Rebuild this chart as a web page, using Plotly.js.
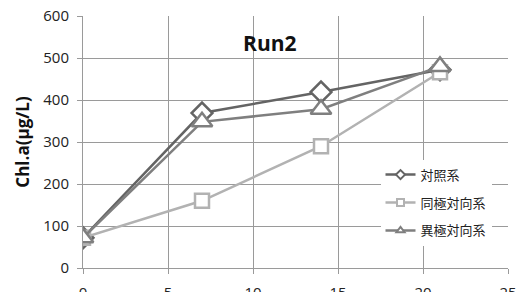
<!DOCTYPE html>
<html><head><meta charset="utf-8">
<script src="https://cdn.plot.ly/plotly-3.0.1.min.js"></script>
<style>html,body{margin:0;padding:0;background:#fff}#c{width:527px;height:292px}</style>
</head><body><div id="c"></div>
<script>
const days = [0, 7, 14, 21];
const control = [72, 369, 419, 472];
const samePolar = [72, 160, 290, 466];
const oppositePolar = [72, 348, 378, 480];
const seriesNames = ['対照系', '同極対向系', '異極対向系'];
const xTicks = [0, 5, 10, 15, 20, 25];
const yTicks = [0, 100, 200, 300, 400, 500, 600];

const colors = ['#646464', '#b2b2b2', '#7f7f7f'];
const symbols = ['diamond', 'square', 'triangle-up'];
const sizes = [16, 14, 18];
const ys = [control, samePolar, oppositePolar];
const traces = [];
ys.forEach((y, i) => {
  traces.push({x: days, y: y, mode: 'lines+markers', showlegend: false,
    line: {color: colors[i], width: 2.5},
    marker: {symbol: symbols[i], size: sizes[i], color: '#fff', line: {color: colors[i], width: 2.5}}});
});
ys.forEach((y, i) => {
  traces.push({x: [null], y: [null], mode: 'lines+markers', name: seriesNames[i], legendgroup: 'g' + i,
    line: {color: colors[i], width: 2.5},
    marker: {symbol: symbols[i], size: 7, color: '#fff', line: {color: colors[i], width: 2}}});
});

const layout = {
  width: 527, height: 292,
  margin: {l: 83, r: 19, t: 16, b: 24},
  paper_bgcolor: '#fff', plot_bgcolor: '#fff',
  font: {family: '"Open Sans", "Noto Sans CJK JP", sans-serif', size: 15, color: '#222'},
  title: {text: '<b>Run2</b>', x: 0.512, xanchor: 'center', y: 0.85, yanchor: 'middle',
    font: {size: 21, color: '#111'}},
  xaxis: {range: [0, 25], tickvals: xTicks, showgrid: true, gridcolor: '#9a9a9a', gridwidth: 1,
    zeroline: false, showline: true, linecolor: '#9a9a9a', ticks: 'outside', ticklen: 5,
    tickcolor: '#9a9a9a', ticklabelstandoff: 6, fixedrange: true},
  yaxis: {range: [0, 600], tickvals: yTicks, showgrid: true, gridcolor: '#9a9a9a', gridwidth: 1,
    zeroline: false, showline: true, linecolor: '#9a9a9a', ticks: 'outside', ticklen: 5,
    tickcolor: '#9a9a9a', ticklabelstandoff: 5,
    title: {text: '<b>Chl.a(μg/L)</b>', font: {size: 17, color: '#111'}, standoff: 9}},
  legend: {x: 0.70, y: 0.43, xanchor: 'left', yanchor: 'top', bgcolor: '#fff',
    font: {size: 13, color: '#222'}, itemwidth: 30, tracegroupgap: 8},
  showlegend: true
};
Plotly.newPlot('c', traces, layout, {displayModeBar: false, staticPlot: true});
</script></body></html>
